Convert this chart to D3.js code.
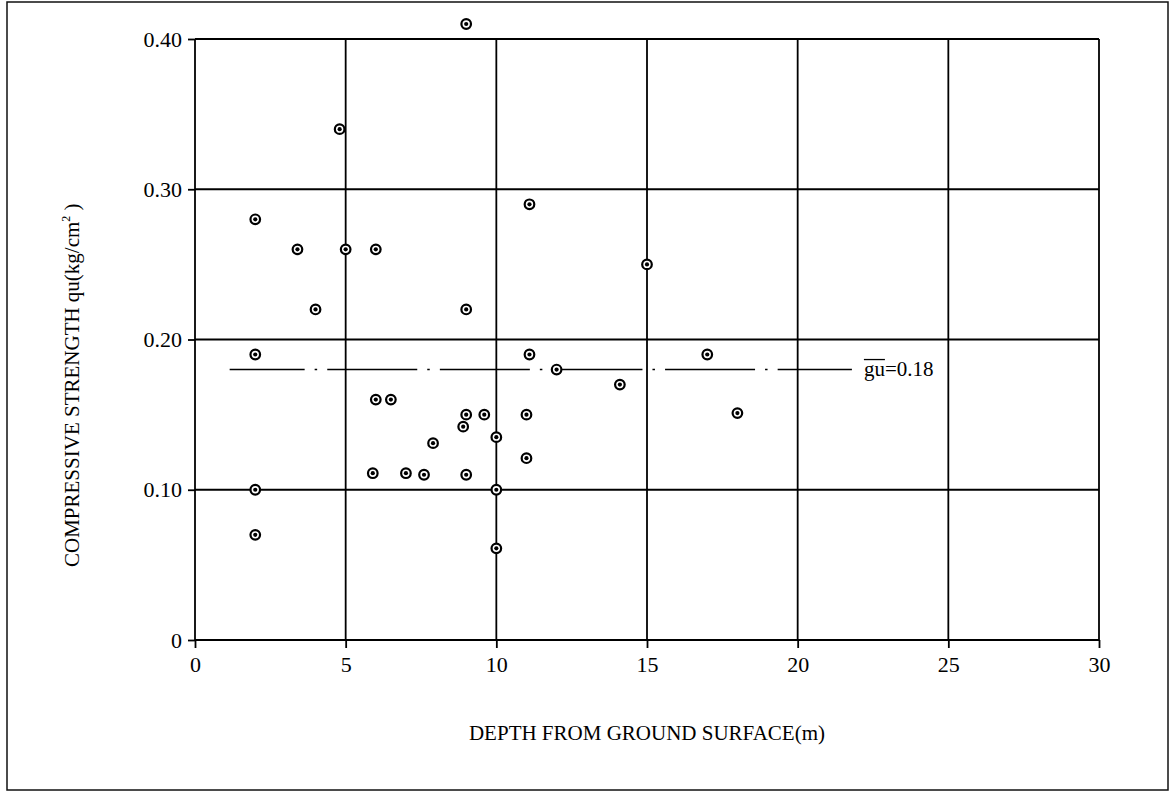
<!DOCTYPE html>
<html>
<head>
<meta charset="utf-8">
<script src="https://cdn.jsdelivr.net/npm/d3@7"></script>
<style>
  body { margin: 0; background: #fff; }
  svg { display: block; font-family: "Liberation Serif", "Times New Roman", serif; }
</style>
</head>
<body>
<div id="vis"></div>
<script>
const FRAME_WIDTH = 1172;
const FRAME_HEIGHT = 792;
const PLOT = { left: 195, right: 1099, top: 39, bottom: 640 };

const DEPTH = [9, 4.8, 2, 11.1, 3.4, 5, 6, 15, 4, 9, 2, 11.1, 12, 14.1, 6, 6.5, 9, 9.6,
  11, 8.9, 10, 7.9, 11, 5.9, 7, 7.6, 9, 2, 10, 2, 10, 17, 18];
const QU = [0.41, 0.34, 0.28, 0.29, 0.26, 0.26, 0.26, 0.25, 0.22, 0.22, 0.19, 0.19, 0.18, 0.17,
  0.16, 0.16, 0.15, 0.15, 0.15, 0.142, 0.135, 0.131, 0.121, 0.111, 0.111, 0.11, 0.11, 0.10,
  0.10, 0.07, 0.061, 0.19, 0.151];
const X_TICKS = [0, 5, 10, 15, 20, 25, 30];
const Y_TICKS = [0, 0.1, 0.2, 0.3, 0.4];
const Y_TICK_LABELS = ["0", "0.10", "0.20", "0.30", "0.40"];
const MEAN_QU = 0.18;
const MEAN_RANGE = [1.15, 21.8];

const FRAME = d3
  .select("#vis")
  .append("svg")
  .attr("width", FRAME_WIDTH)
  .attr("height", FRAME_HEIGHT);

const X_SCALE = d3.scaleLinear().domain([0, 30]).range([PLOT.left, PLOT.right]);
const Y_SCALE = d3.scaleLinear().domain([0, 0.4]).range([PLOT.bottom, PLOT.top]);

// outer frame
FRAME.append("rect")
  .attr("x", 7)
  .attr("y", 2)
  .attr("width", 1161)
  .attr("height", 788)
  .attr("fill", "none")
  .attr("stroke", "#111")
  .attr("stroke-width", 1.5);

// grid
FRAME.selectAll(".vgrid")
  .data(X_TICKS)
  .enter()
  .append("line")
  .attr("x1", (d) => X_SCALE(d))
  .attr("x2", (d) => X_SCALE(d))
  .attr("y1", Y_SCALE(0.4))
  .attr("y2", Y_SCALE(0))
  .attr("stroke", "#000")
  .attr("stroke-width", 1.8);

FRAME.selectAll(".hgrid")
  .data(Y_TICKS)
  .enter()
  .append("line")
  .attr("x1", X_SCALE(0))
  .attr("x2", X_SCALE(30))
  .attr("y1", (d) => Y_SCALE(d))
  .attr("y2", (d) => Y_SCALE(d))
  .attr("stroke", "#000")
  .attr("stroke-width", (d) => (d === 0 ? 2.2 : 1.8));

// axes
const xAxis = FRAME.append("g")
  .attr("transform", `translate(0, ${PLOT.bottom})`)
  .call(d3.axisBottom(X_SCALE).tickValues(X_TICKS).tickSize(8).tickPadding(8).tickSizeOuter(0));

const yAxis = FRAME.append("g")
  .attr("transform", `translate(${PLOT.left}, 0)`)
  .call(
    d3.axisLeft(Y_SCALE)
      .tickValues(Y_TICKS)
      .tickFormat((d, i) => Y_TICK_LABELS[i])
      .tickSize(7)
      .tickPadding(6)
      .tickSizeOuter(0)
  );

[xAxis, yAxis].forEach((g) => {
  g.select(".domain").remove();
  g.selectAll(".tick line").attr("stroke", "#000").attr("stroke-width", 1.8);
  g.selectAll("text")
    .attr("font-family", "Liberation Serif, serif")
    .attr("font-size", 22)
    .attr("fill", "#000");
});

// mean line
FRAME.append("line")
  .attr("x1", X_SCALE(MEAN_RANGE[0]))
  .attr("x2", X_SCALE(MEAN_RANGE[1]))
  .attr("y1", Y_SCALE(MEAN_QU))
  .attr("y2", Y_SCALE(MEAN_QU))
  .attr("stroke", "#000")
  .attr("stroke-width", 1.6)
  .attr("stroke-dasharray", "90,10,2.5,10.1")
  .attr("stroke-dashoffset", 15);

const LABEL_X = X_SCALE(MEAN_RANGE[1]) + 12;
const LABEL_Y = Y_SCALE(MEAN_QU) + 6;
const meanLabel = FRAME.append("text")
  .attr("x", LABEL_X)
  .attr("y", LABEL_Y)
  .attr("font-size", 21)
  .attr("fill", "#000")
  .text("gu=" + MEAN_QU.toFixed(2));

const barWidth = meanLabel.node().getSubStringLength(0, 2);
FRAME.append("line")
  .attr("x1", LABEL_X)
  .attr("x2", LABEL_X + barWidth)
  .attr("y1", LABEL_Y - 16)
  .attr("y2", LABEL_Y - 16)
  .attr("stroke", "#000")
  .attr("stroke-width", 1.3);

// points
const points = FRAME.selectAll(".pt")
  .data(DEPTH.map((d, i) => ({ depth: d, qu: QU[i] })))
  .enter()
  .append("g")
  .attr("transform", (d) => `translate(${X_SCALE(d.depth)}, ${Y_SCALE(d.qu)})`);

points.append("circle")
  .attr("r", 4.8)
  .attr("fill", "#fff")
  .attr("stroke", "#000")
  .attr("stroke-width", 2.2);

points.append("circle")
  .attr("r", 2.1)
  .attr("fill", "#000");

// axis titles
FRAME.append("text")
  .attr("x", (PLOT.left + PLOT.right) / 2)
  .attr("y", 740)
  .attr("text-anchor", "middle")
  .attr("font-size", 21)
  .attr("fill", "#000")
  .text("DEPTH FROM GROUND SURFACE(m)");

const yTitle = FRAME.append("text")
  .attr("transform", "translate(79, 567) rotate(-90)")
  .attr("text-anchor", "start")
  .attr("font-size", 21)
  .attr("fill", "#000");
yTitle.append("tspan").text("COMPRESSIVE STRENGTH qu(kg/cm");
yTitle.append("tspan").attr("font-size", 12).attr("dy", -9).text("2");
yTitle.append("tspan").attr("dy", 9).text(" )");
</script>
</body>
</html>
